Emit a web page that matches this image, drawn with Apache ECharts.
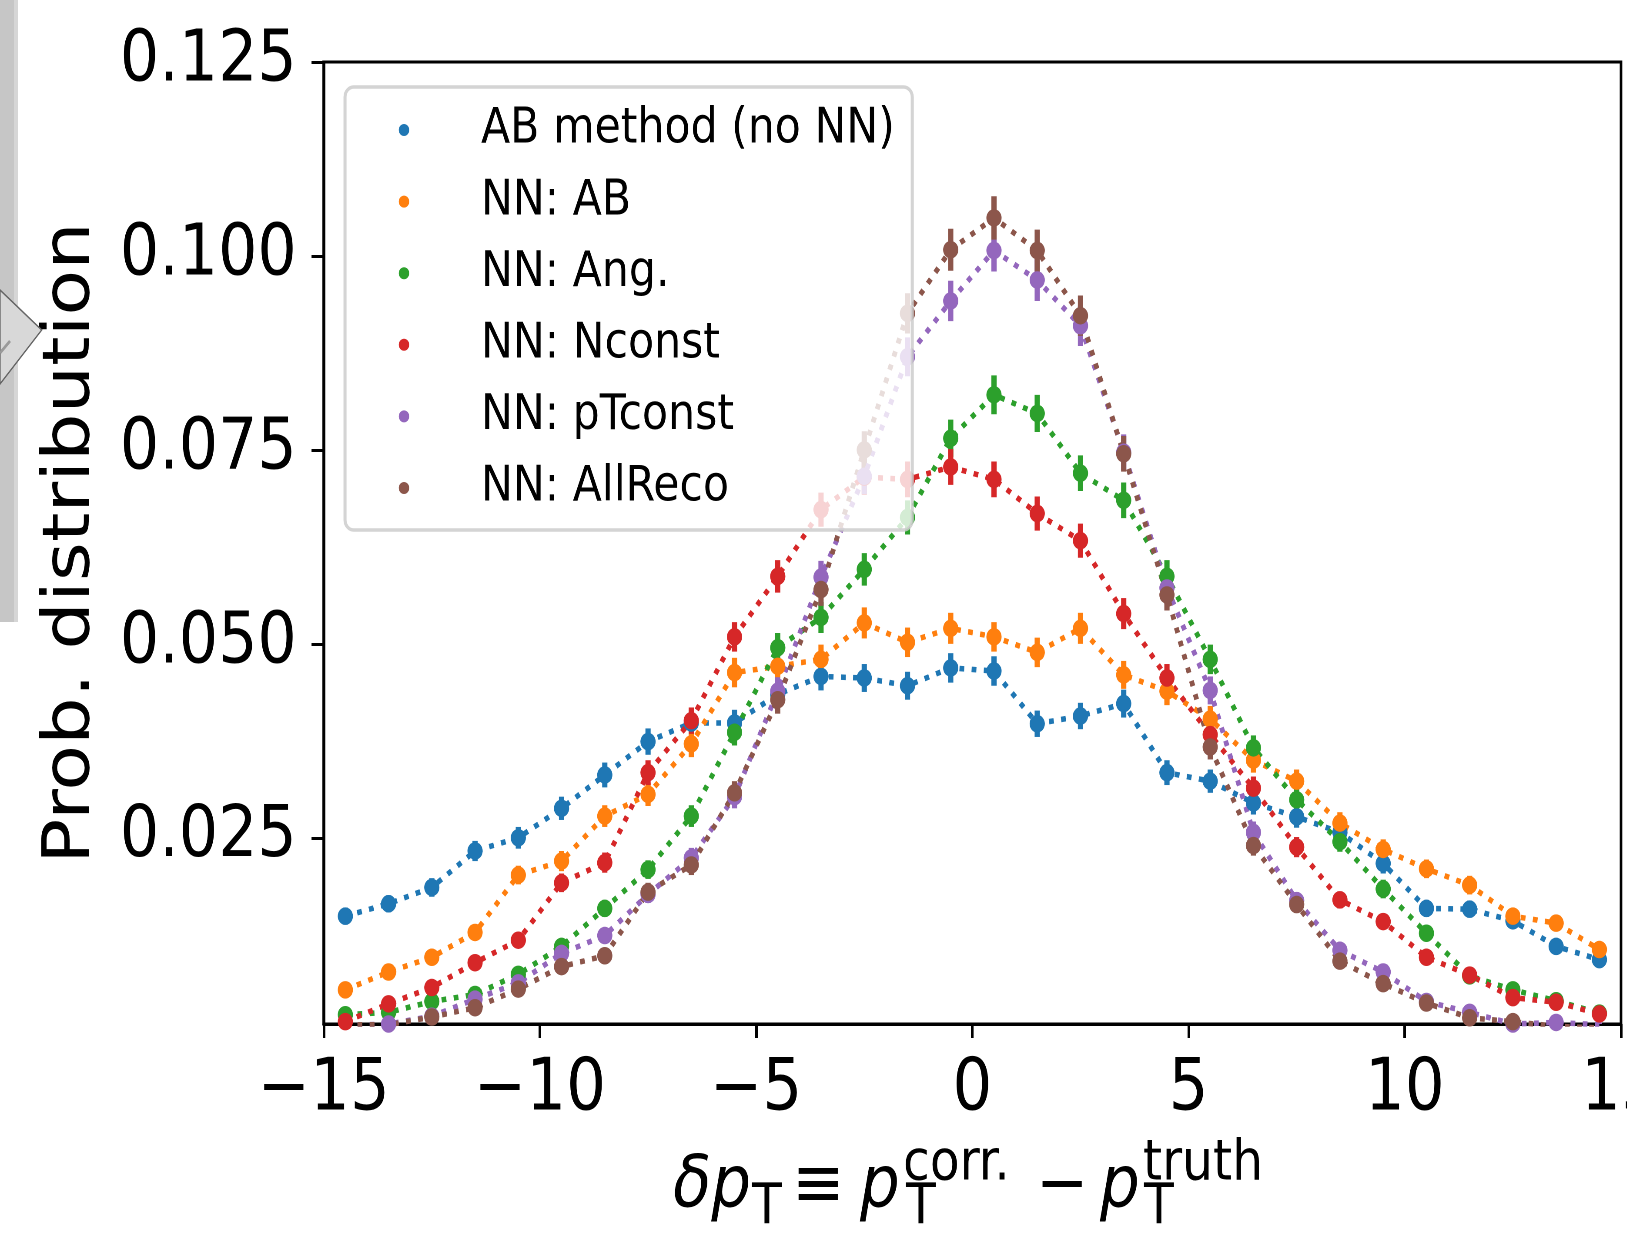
<!DOCTYPE html>
<html>
<head>
<meta charset="utf-8">
<script src="https://cdn.jsdelivr.net/npm/echarts@6/dist/echarts.min.js"></script>
<style>
html, body { margin: 0; padding: 0; width: 1627px; height: 1235px; overflow: hidden; background: #fff; }
#chart { width: 1870px; height: 1235px; transform: scaleX(0.87); transform-origin: 0 0; }
</style>
</head>
<body>
<div id="chart"></div>
<script>
// ---- data ----
const binCenters = [-14.5, -13.5, -12.5, -11.5, -10.5, -9.5, -8.5, -7.5, -6.5, -5.5,
  -4.5, -3.5, -2.5, -1.5, -0.5, 0.5, 1.5, 2.5, 3.5, 4.5,
  5.5, 6.5, 7.5, 8.5, 9.5, 10.5, 11.5, 12.5, 13.5, 14.5];

const seriesNames = ['AB method (no NN)', 'NN: AB', 'NN: Ang.', 'NN: Nconst', 'NN: pTconst', 'NN: AllReco'];

const abMethod = [0.0149, 0.0165, 0.0186, 0.0233, 0.0250, 0.0288, 0.0331, 0.0374, 0.0398, 0.0398,
  0.0435, 0.0458, 0.0456, 0.0446, 0.0469, 0.0465, 0.0397, 0.0407, 0.0423, 0.0334,
  0.0323, 0.0295, 0.0277, 0.0257, 0.0217, 0.0159, 0.0158, 0.0143, 0.0110, 0.0093];
const nnAB = [0.0054, 0.0077, 0.0096, 0.0128, 0.0202, 0.0220, 0.0278, 0.0306, 0.0371, 0.0463,
  0.0471, 0.0480, 0.0527, 0.0502, 0.0520, 0.0509, 0.0489, 0.0520, 0.0460, 0.0439,
  0.0403, 0.0350, 0.0323, 0.0269, 0.0235, 0.0210, 0.0189, 0.0149, 0.0140, 0.0106];
const nnAng = [0.0022, 0.0025, 0.0039, 0.0048, 0.0074, 0.0110, 0.0159, 0.0209, 0.0278, 0.0386,
  0.0495, 0.0534, 0.0596, 0.0663, 0.0765, 0.0821, 0.0797, 0.0720, 0.0685, 0.0587,
  0.0480, 0.0366, 0.0299, 0.0245, 0.0184, 0.0127, 0.0072, 0.0054, 0.0040, 0.0024];
const nnNconst = [0.0013, 0.0036, 0.0057, 0.0089, 0.0118, 0.0192, 0.0218, 0.0334, 0.0401, 0.0509,
  0.0587, 0.0673, 0.0715, 0.0712, 0.0728, 0.0712, 0.0668, 0.0633, 0.0539, 0.0456,
  0.0383, 0.0314, 0.0238, 0.0170, 0.0142, 0.0096, 0.0073, 0.0044, 0.0038, 0.0023];
const nnPTconst = [0.0008, 0.0010, 0.0020, 0.0042, 0.0063, 0.0101, 0.0124, 0.0177, 0.0224, 0.0303,
  0.0439, 0.0586, 0.0716, 0.0870, 0.0942, 0.1007, 0.0969, 0.0910, 0.0747, 0.0572,
  0.0440, 0.0257, 0.0169, 0.0105, 0.0077, 0.0039, 0.0025, 0.0010, 0.0012, 0.0009];
const nnAllReco = [0.0009, 0.0009, 0.0019, 0.0031, 0.0055, 0.0084, 0.0098, 0.0180, 0.0215, 0.0308,
  0.0428, 0.0570, 0.0750, 0.0926, 0.1008, 0.1049, 0.1007, 0.0923, 0.0745, 0.0563,
  0.0367, 0.0240, 0.0164, 0.0091, 0.0062, 0.0037, 0.0018, 0.0013, 0.0007, 0.0005];

// half-lengths of the vertical error bars
const errAB = [0.0011, 0.0011, 0.0012, 0.0013, 0.0014, 0.0015, 0.0016, 0.0017, 0.0017, 0.0017,
  0.0018, 0.0018, 0.0018, 0.0018, 0.0019, 0.0019, 0.0017, 0.0017, 0.0018, 0.0016,
  0.0015, 0.0015, 0.0014, 0.0014, 0.0013, 0.0011, 0.0011, 0.0010, 0.0009, 0.0008];
const errNnAB = [0.0006, 0.0008, 0.0008, 0.0010, 0.0012, 0.0013, 0.0014, 0.0015, 0.0017, 0.0019,
  0.0019, 0.0019, 0.0020, 0.0019, 0.0020, 0.0019, 0.0019, 0.0020, 0.0018, 0.0018,
  0.0017, 0.0016, 0.0015, 0.0014, 0.0013, 0.0012, 0.0012, 0.0010, 0.0010, 0.0009];
const errAng = [0.0004, 0.0004, 0.0005, 0.0006, 0.0007, 0.0009, 0.0011, 0.0012, 0.0014, 0.0017,
  0.0019, 0.0020, 0.0021, 0.0022, 0.0024, 0.0025, 0.0024, 0.0023, 0.0023, 0.0021,
  0.0019, 0.0016, 0.0015, 0.0013, 0.0012, 0.0010, 0.0007, 0.0006, 0.0005, 0.0004];
const errNconst = [0.0003, 0.0005, 0.0006, 0.0008, 0.0009, 0.0012, 0.0013, 0.0016, 0.0017, 0.0019,
  0.0021, 0.0022, 0.0023, 0.0023, 0.0023, 0.0023, 0.0022, 0.0022, 0.0020, 0.0018,
  0.0017, 0.0015, 0.0013, 0.0011, 0.0010, 0.0008, 0.0007, 0.0006, 0.0005, 0.0004];
const errPTconst = [0.0002, 0.0003, 0.0004, 0.0006, 0.0007, 0.0009, 0.0010, 0.0011, 0.0013, 0.0015,
  0.0018, 0.0021, 0.0023, 0.0025, 0.0026, 0.0027, 0.0027, 0.0026, 0.0023, 0.0021,
  0.0018, 0.0014, 0.0011, 0.0009, 0.0008, 0.0005, 0.0004, 0.0003, 0.0003, 0.0003];
const errAllReco = [0.0003, 0.0003, 0.0004, 0.0005, 0.0006, 0.0008, 0.0009, 0.0012, 0.0013, 0.0015,
  0.0018, 0.0021, 0.0024, 0.0026, 0.0027, 0.0028, 0.0027, 0.0026, 0.0023, 0.0020,
  0.0016, 0.0013, 0.0011, 0.0008, 0.0007, 0.0005, 0.0004, 0.0003, 0.0002, 0.0002];

const xTickInterval = 5;
const yTickValues = [0.025, 0.050, 0.075, 0.100, 0.125];

// ---- chart ----
const values = [abMethod, nnAB, nnAng, nnNconst, nnPTconst, nnAllReco];
const errors = [errAB, errNnAB, errAng, errNconst, errPTconst, errAllReco];
const colors = ['#1f77b4', '#ff7f0e', '#2ca02c', '#d62728', '#9467bd', '#8c564b'];
const FONT = "'DejaVu Sans', 'Liberation Sans', sans-serif";
const SX = 0.87; // horizontal squeeze of the reference figure (applied by CSS)
const X = v => v / SX; // full-image x -> chart x

const series = [];
values.forEach((vals, i) => {
  const color = colors[i];
  series.push({
    type: 'custom',
    name: seriesNames[i] + ' err',
    silent: true,
    clip: true,
    z: 2,
    data: binCenters.map((x, j) => [x, vals[j], errors[i][j]]),
    encode: { x: 0, y: 1 },
    renderItem: function (params, api) {
      const x = api.value(0), y = api.value(1), e = api.value(2);
      const p1 = api.coord([x, y - e]);
      const p2 = api.coord([x, y + e]);
      return {
        type: 'line',
        shape: { x1: p1[0], y1: p1[1], x2: p2[0], y2: p2[1] },
        style: { stroke: color, lineWidth: 6 }
      };
    }
  });
  series.push({
    type: 'line',
    name: seriesNames[i],
    data: binCenters.map((x, j) => [x, vals[j]]),
    symbol: 'circle',
    symbolSize: 17.5,
    showAllSymbol: true,
    clip: true,
    z: 2,
    itemStyle: { color: color },
    lineStyle: { color: color, width: 5.5, type: [5.5, 8.5], cap: 'butt' },
    emphasis: { disabled: true }
  });
});

const chart = echarts.init(document.getElementById('chart'), null, { renderer: 'canvas', devicePixelRatio: 2 });

const titleMain = { fontFamily: FONT, fontSize: 72, fill: '#000' };
const titleSmall = { fontFamily: FONT, fontSize: 56, fill: '#000' };
function t(x, y, text, base, extra) {
  return { type: 'text', x: X(x), y: y, z: 10,
    style: Object.assign({ text: text, verticalAlign: 'middle', align: 'left' }, base, extra || {}) };
}

chart.setOption({
  animation: false,
  backgroundColor: '#fff',
  grid: {
    left: X(323.7), right: 1870 - X(1621), top: 62, bottom: 211,
    outerBoundsMode: 'none',
    containLabel: false,
    show: true, borderColor: '#000', borderWidth: 3, backgroundColor: 'transparent'
  },
  legend: {
    data: seriesNames,
    orient: 'vertical',
    left: X(345),
    top: 87,
    icon: 'circle',
    itemWidth: 12,
    itemHeight: 12,
    itemGap: 22.6,
    padding: [18.5, 20, 17.5, X(404) - X(345) - 6],
    backgroundColor: 'rgba(255,255,255,0.8)',
    borderColor: 'rgba(204,204,204,0.85)',
    borderWidth: 3.5,
    borderRadius: 10,
    selectedMode: false,
    textStyle: {
      fontFamily: FONT, fontSize: 49, color: '#000', lineHeight: 49,
      padding: [0, 0, 0, X(481) - X(404) - 6 - 5]
    },
    z: 5
  },
  xAxis: {
    type: 'value',
    min: -15, max: 15, interval: xTickInterval,
    splitLine: { show: false },
    axisLine: { onZero: false, lineStyle: { color: '#000', width: 3 } },
    axisTick: { length: 14, lineStyle: { color: '#000', width: 3 } },
    axisLabel: {
      fontFamily: FONT, fontSize: 72, color: '#000', margin: 31, lineHeight: 72,
      showMinLabel: true, showMaxLabel: true, hideOverlap: false,
      formatter: v => (v < 0 ? '\u2212' + Math.abs(v) : String(v))
    }
  },
  yAxis: {
    type: 'value',
    min: 0.001, max: 0.125,
    splitLine: { show: false },
    axisLine: { onZero: false, lineStyle: { color: '#000', width: 3 } },
    axisTick: { customValues: yTickValues, length: 14, lineStyle: { color: '#000', width: 3 } },
    axisLabel: {
      customValues: yTickValues,
      fontFamily: FONT, fontSize: 71, color: '#000', margin: 31,
      padding: [12, 0, 0, 0],
      formatter: v => v.toFixed(3)
    },
    name: 'Prob. distribution',
    nameLocation: 'middle',
    nameGap: 252,
    nameTextStyle: { fontFamily: FONT, fontSize: 75, color: '#000' }
  },
  graphic: [
    // grey artefacts at the left edge of the reference picture
    { type: 'rect', shape: { x: 0, y: 0, width: X(14), height: 622 }, style: { fill: '#c6c6c6' }, z: 0, silent: true },
    { type: 'rect', shape: { x: X(14), y: 0, width: X(4), height: 622 }, style: { fill: '#d6d6d6' }, z: 0, silent: true },
    { type: 'polygon', shape: { points: [[0, 290], [X(41.7), 330], [0, 384]] },
      style: { fill: '#d8d8d8', stroke: '#666', lineWidth: 1.5 }, z: 1, silent: true },
    { type: 'line', shape: { x1: 0, y1: 353, x2: X(10), y2: 341 }, style: { stroke: '#9a9a9a', lineWidth: 3 }, z: 1, silent: true },
    // x-axis title: δp_T ≡ p_T^corr. − p_T^truth
    t(673, 1188, 'δp', titleMain, { fontStyle: 'italic' }),
    t(752, 1209, 'T', titleSmall),
    t(792, 1188, '≡', titleMain),
    t(860, 1188, 'p', titleMain, { fontStyle: 'italic' }),
    t(903, 1165, 'corr.', titleSmall),
    t(906, 1209, 'T', titleSmall),
    t(1036, 1188, '\u2212', titleMain),
    t(1100, 1188, 'p', titleMain, { fontStyle: 'italic' }),
    t(1143, 1165, 'truth', titleSmall),
    t(1144, 1209, 'T', titleSmall)
  ],
  series: series
});
</script>
</body>
</html>
